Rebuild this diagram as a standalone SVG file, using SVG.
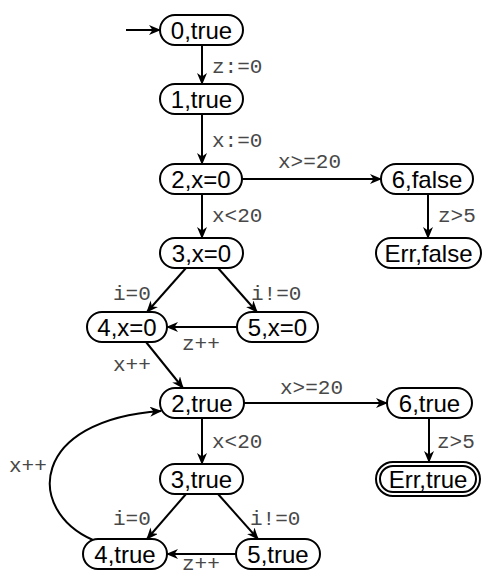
<svg xmlns="http://www.w3.org/2000/svg" width="482" height="575" viewBox="0 0 482 575">
<style>
.n{fill:#fff;stroke:#000;stroke-width:2}
.t{font-family:"Liberation Sans",Arial,sans-serif;font-size:24px;fill:#000;text-anchor:middle}
.l{font-family:"Liberation Mono","Courier New",monospace;font-size:21px;fill:#484848}
.e{fill:none;stroke:#000;stroke-width:2;marker-end:url(#ah)}
</style>
<defs>
<marker id="ah" viewBox="0 0 12 10" refX="11" refY="5" markerWidth="12" markerHeight="10" markerUnits="userSpaceOnUse" orient="auto">
<path d="M0,0 L12,5 L0,10 L3.5,5 z" fill="#000"/>
</marker>
</defs>
<g id="connectors">
<path class="e" d="M126,30 L160,30"/>
<path class="e" d="M202,45 L202,84"/>
<path class="e" d="M202,114 L202,164"/>
<path class="e" d="M242,179 L381,179"/>
<path class="e" d="M428,194 L428,238"/>
<path class="e" d="M202,194 L202,238"/>
<path class="e" d="M186,268 L147,312"/>
<path class="e" d="M218,268 L257,312"/>
<path class="e" d="M237,327 L167,327"/>
<path class="e" d="M146,342 L183,388"/>
<path class="e" d="M244,403 L387,403"/>
<path class="e" d="M429,418 L429,462"/>
<path class="e" d="M202,418 L202,464"/>
<path class="e" d="M186,494 L147,539"/>
<path class="e" d="M218,494 L258,539"/>
<path class="e" d="M236,554 L167,554"/>
<path class="e" d="M93,540 C25,510 30,420 161,411"/>
<text class="l" x="212" y="73">z:=0</text>
<text class="l" x="212" y="147">x:=0</text>
<text class="l" x="278" y="168">x&gt;=20</text>
<text class="l" x="212" y="222">x&lt;20</text>
<text class="l" x="438" y="222">z&gt;5</text>
<text class="l" x="113" y="300">i=0</text>
<text class="l" x="251" y="300">i!=0</text>
<text class="l" x="182" y="350">z++</text>
<text class="l" x="113" y="371">x++</text>
<text class="l" x="280" y="394">x&gt;=20</text>
<text class="l" x="212" y="448">x&lt;20</text>
<text class="l" x="437" y="448">z&gt;5</text>
<text class="l" x="113" y="525">i=0</text>
<text class="l" x="250" y="525">i!=0</text>
<text class="l" x="182" y="570">z++</text>
<text class="l" x="9" y="472">x++</text>
</g>
<g id="n0"><rect class="n" x="160" y="15" width="83" height="30" rx="15"/><text class="t" x="201.5" y="38.5">0,true</text></g>
<g id="n1"><rect class="n" x="160" y="84" width="83" height="30" rx="15"/><text class="t" x="201.5" y="107.5">1,true</text></g>
<g id="n2a"><rect class="n" x="160" y="164" width="82" height="30" rx="15"/><text class="t" x="201" y="187.5">2,x=0</text></g>
<g id="n6a"><rect class="n" x="381" y="164" width="92" height="30" rx="15"/><text class="t" x="427" y="187.5">6,false</text></g>
<g id="n3a"><rect class="n" x="160" y="238" width="83" height="30" rx="15"/><text class="t" x="201.5" y="261.5">3,x=0</text></g>
<g id="nErrA"><rect class="n" x="376" y="238" width="105" height="30" rx="15"/><text class="t" x="428.5" y="261.5">Err,false</text></g>
<g id="n4a"><rect class="n" x="87" y="312" width="80" height="30" rx="15"/><text class="t" x="127" y="335.5">4,x=0</text></g>
<g id="n5a"><rect class="n" x="237" y="312" width="81" height="30" rx="15"/><text class="t" x="277.5" y="335.5">5,x=0</text></g>
<g id="n2b"><rect class="n" x="160" y="388" width="84" height="30" rx="15"/><text class="t" x="202" y="411.5">2,true</text></g>
<g id="n6b"><rect class="n" x="387" y="388" width="85" height="30" rx="15"/><text class="t" x="429.5" y="411.5">6,true</text></g>
<g id="n3b"><rect class="n" x="160" y="464" width="83" height="30" rx="15"/><text class="t" x="201.5" y="487.5">3,true</text></g>
<g id="nErrB"><rect class="n" x="376" y="462" width="104" height="34" rx="17"/><rect class="n" x="380" y="466" width="96" height="26" rx="13"/><text class="t" x="428" y="487.5">Err,true</text></g>
<g id="n4b"><rect class="n" x="83" y="539" width="84" height="30" rx="15"/><text class="t" x="125" y="562.5">4,true</text></g>
<g id="n5b"><rect class="n" x="236" y="539" width="84" height="30" rx="15"/><text class="t" x="278" y="562.5">5,true</text></g>
</svg>
